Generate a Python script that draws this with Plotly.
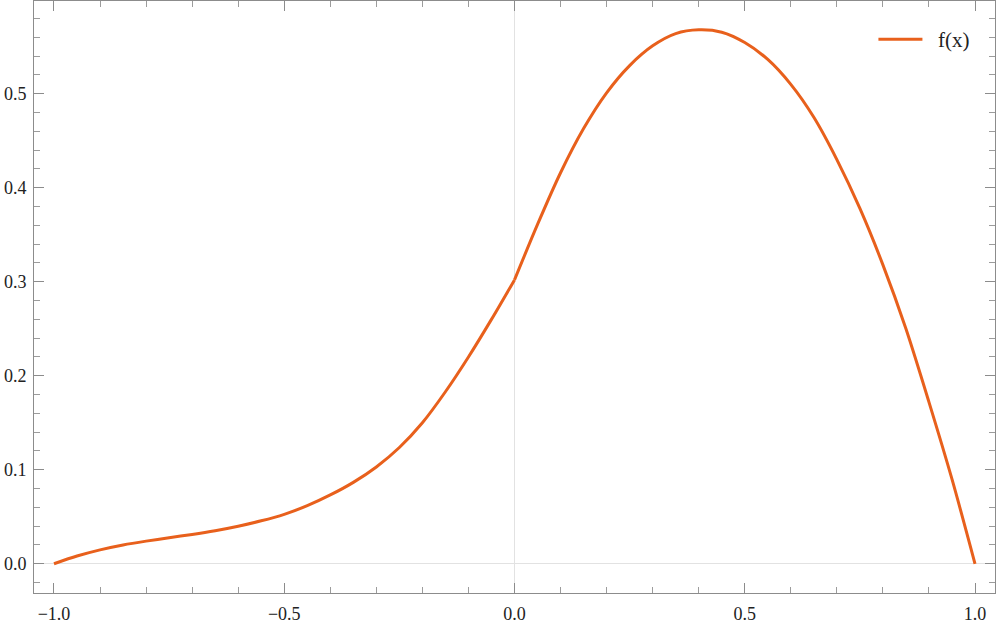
import plotly.graph_objects as go

# f(x)
x_left = [-1.0, -0.95, -0.9, -0.85, -0.8, -0.75, -0.7, -0.65, -0.6, -0.55, -0.5,
          -0.45, -0.4, -0.35, -0.3, -0.25, -0.2, -0.15, -0.1, -0.05, 0.0]
y_left = [0.0, 0.0082, 0.0148, 0.0200, 0.0241, 0.0277, 0.0312, 0.0352, 0.0400, 0.0457, 0.0526,
          0.0618, 0.0732, 0.0866, 0.1030, 0.1237, 0.1500, 0.1830, 0.2200, 0.2600, 0.302]
x_right = [0.0, 0.05, 0.1, 0.15, 0.2, 0.25, 0.3, 0.35, 0.4, 0.45, 0.5,
           0.55, 0.6, 0.65, 0.7, 0.75, 0.8, 0.85, 0.9, 0.95, 1.0]
y_right = [0.302, 0.361, 0.416, 0.463, 0.501, 0.530, 0.551, 0.564, 0.568, 0.5655, 0.5545,
           0.5365, 0.510, 0.475, 0.430, 0.378, 0.318, 0.250, 0.172, 0.090, 0.0]

x_ticks = [-1.0, -0.5, 0.0, 0.5, 1.0]
x_tick_labels = ["\u22121.0", "\u22120.5", "0.0", "0.5", "1.0"]
y_ticks = [0.0, 0.1, 0.2, 0.3, 0.4, 0.5]
y_tick_labels = ["0.0", "0.1", "0.2", "0.3", "0.4", "0.5"]

color = "#E8601C"
serif = "Liberation Serif, Times New Roman, Times, DejaVu Serif, serif"
fig = go.Figure()
fig.add_trace(go.Scatter(x=x_left, y=y_left, mode="lines", name="\u00a0\u00a0f(x)",
                         line=dict(color=color, width=3, shape="spline", smoothing=0.8),
                         legendgroup="f", showlegend=True))
fig.add_trace(go.Scatter(x=x_right, y=y_right, mode="lines", name="\u00a0\u00a0f(x)",
                         line=dict(color=color, width=3, shape="spline", smoothing=0.8),
                         legendgroup="f", showlegend=False))

axis_common = dict(
    showgrid=False, showline=True, linecolor="#8c8c8c", linewidth=1,
    mirror="allticks", ticks="inside", tickcolor="#8c8c8c", ticklen=10, tickwidth=1,
    zeroline=True, zerolinecolor="#e2e2e2", zerolinewidth=1, automargin=False,
    tickfont=dict(family=serif, size=18, color="#222"),
)
fig.update_xaxes(**axis_common, range=[-1.0434, 1.0434], tickvals=x_ticks,
                 ticktext=x_tick_labels, ticklabelstandoff=4,
                 minor=dict(dtick=0.1, tick0=0, ticks="inside", ticklen=6,
                            tickcolor="#9c9c9c", showgrid=False))
fig.update_yaxes(**axis_common, range=[-0.0311, 0.5987], tickvals=y_ticks,
                 ticktext=y_tick_labels, ticklabelstandoff=3,
                 minor=dict(dtick=0.02, tick0=0, ticks="inside", ticklen=6,
                            tickcolor="#9c9c9c", showgrid=False))

fig.update_layout(
    width=997, height=625,
    margin=dict(l=34, r=2, t=1, b=32),
    plot_bgcolor="white", paper_bgcolor="white",
    font=dict(family=serif),
    legend=dict(x=0.8735, y=0.935, xanchor="left", yanchor="middle",
                bgcolor="rgba(0,0,0,0)", itemwidth=44,
                font=dict(family=serif, size=21, color="#222")),
)
fig.write_html("out.html", config={"displayModeBar": False},
               post_script="document.body.style.margin='0px';")
